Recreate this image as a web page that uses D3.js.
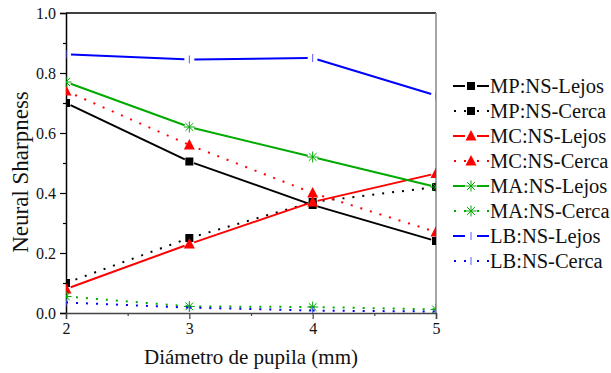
<!DOCTYPE html>
<html>
<head>
<meta charset="utf-8">
<script src="https://cdn.jsdelivr.net/npm/d3@7"></script>
<style>
  body { margin: 0; background: #fff; }
  svg text { font-family: "Liberation Serif", "Times New Roman", serif; fill: #111; }
</style>
</head>
<body>
<svg id="chart" width="611" height="373"></svg>
<script>
// pupil diameters (mm)
const diameters = [2, 3, 4, 5];

const mpLejos = [0.70, 0.505, 0.36, 0.24];
const mpCerca = [0.10, 0.25, 0.37, 0.42];
const mcLejos = [0.08, 0.23, 0.37, 0.465];
const mcCerca = [0.74, 0.56, 0.40, 0.27];
const maLejos = [0.77, 0.62, 0.52, 0.42];
const maCerca = [0.055, 0.022, 0.02, 0.012];
const lbLejos = [0.862, 0.845, 0.85, 0.725];
const lbCerca = [0.035, 0.018, 0.008, 0.005];

const seriesNames = ["MP:NS-Lejos", "MP:NS-Cerca", "MC:NS-Lejos", "MC:NS-Cerca",
  "MA:NS-Lejos", "MA:NS-Cerca", "LB:NS-Lejos", "LB:NS-Cerca"];
const yTicks = [0, 0.2, 0.4, 0.6, 0.8, 1.0];

const series = [
  { name: seriesNames[0], values: mpLejos, color: "#000", dotted: false, marker: "square" },
  { name: seriesNames[1], values: mpCerca, color: "#000", dotted: true, marker: "square" },
  { name: seriesNames[2], values: mcLejos, color: "#ff0000", dotted: false, marker: "triangle" },
  { name: seriesNames[3], values: mcCerca, color: "#ff0000", dotted: true, marker: "triangle" },
  { name: seriesNames[4], values: maLejos, color: "#00aa00", dotted: false, marker: "star" },
  { name: seriesNames[5], values: maCerca, color: "#00aa00", dotted: true, marker: "star" },
  { name: seriesNames[6], values: lbLejos, color: "#0000ff", dotted: false, marker: "bar" },
  { name: seriesNames[7], values: lbCerca, color: "#0000ff", dotted: true, marker: "bar" },
];

const svg = d3.select("#chart");
const margin = { left: 66, top: 13, right: 175, bottom: 60 };
const W = 611, H = 373;
const x = d3.scaleLinear().domain([2, 5]).range([margin.left, W - margin.right]);
const y = d3.scaleLinear().domain([0, 1]).range([H - margin.bottom, margin.top]);

svg.append("defs").append("clipPath").attr("id", "plotClip")
  .append("rect")
  .attr("x", x(2)).attr("y", y(1))
  .attr("width", x(5) - x(2)).attr("height", y(0) - y(1));

// axes frame
svg.append("line").attr("x1", x(2)).attr("x2", x(5)).attr("y1", y(1)).attr("y2", y(1))
  .attr("stroke", "#000").attr("stroke-width", 1.5);
svg.append("line").attr("x1", x(5)).attr("x2", x(5)).attr("y1", y(1)).attr("y2", y(0))
  .attr("stroke", "#888").attr("stroke-width", 1.5);

const yAxis = d3.axisLeft(y).tickValues(yTicks).tickFormat(d3.format(".1f")).tickSize(6).tickPadding(4);
const gy = svg.append("g").attr("transform", `translate(${x(2)},0)`).call(yAxis);
gy.select(".domain").attr("stroke", "#000").attr("stroke-width", 1.5);
gy.selectAll(".tick line").attr("stroke", "#000").attr("stroke-width", 1.2);
gy.selectAll("text").style("font-size", "16px").attr("fill", "#222");
svg.append("g").attr("transform", `translate(${x(2)},0)`)
  .call(d3.axisLeft(y).tickValues([0.1, 0.3, 0.5, 0.7, 0.9]).tickSize(3).tickFormat(""))
  .call(g => g.select(".domain").remove())
  .selectAll("line").attr("stroke", "#000").attr("stroke-width", 1.2);

const xAxis = d3.axisBottom(x).tickValues(diameters).tickFormat(d3.format("d")).tickSize(6).tickPadding(4);
const gx = svg.append("g").attr("transform", `translate(0,${y(0)})`).call(xAxis);
gx.select(".domain").attr("stroke", "#444").attr("stroke-width", 1.5);
gx.selectAll(".tick line").attr("stroke", "#444").attr("stroke-width", 1.2);
gx.selectAll("text").style("font-size", "16px").attr("fill", "#222");
svg.append("g").attr("transform", `translate(0,${y(0)})`)
  .call(d3.axisBottom(x).tickValues([2.5, 3.5, 4.5]).tickSize(3).tickFormat(""))
  .call(g => g.select(".domain").remove())
  .selectAll("line").attr("stroke", "#444").attr("stroke-width", 1.2);

// axis titles
svg.append("text").attr("x", (x(2) + x(5)) / 2).attr("y", 364)
  .attr("text-anchor", "middle").style("font-size", "21px").text("Diámetro de pupila (mm)");
svg.append("text").attr("transform", `translate(28,172) rotate(-90)`)
  .attr("text-anchor", "middle").style("font-size", "23px").text("Neural Sharpness");

function drawMarker(g, kind, color, cx, cy) {
  if (kind === "square") {
    g.append("rect").attr("x", cx - 4).attr("y", cy - 4).attr("width", 8).attr("height", 8).attr("fill", color);
  } else if (kind === "triangle") {
    g.append("path").attr("d", `M${cx},${cy - 6}L${cx + 5.5},${cy + 4.5}L${cx - 5.5},${cy + 4.5}Z`).attr("fill", color);
  } else if (kind === "star") {
    const r = 5.5;
    const d = d3.range(4).map(i => {
      const a = i * Math.PI / 4;
      return `M${cx - r * Math.cos(a)},${cy - r * Math.sin(a)}L${cx + r * Math.cos(a)},${cy + r * Math.sin(a)}`;
    }).join("");
    g.append("path").attr("d", d).attr("stroke", color).attr("stroke-width", 1).attr("fill", "none");
  } else if (kind === "bar") {
    g.append("line").attr("x1", cx).attr("x2", cx).attr("y1", cy - 4).attr("y2", cy + 4)
      .attr("stroke", "#5a5aff").attr("stroke-width", 1);
  }
}

const plot = svg.append("g").attr("clip-path", "url(#plotClip)");
const gap = 5;

series.forEach(s => {
  const g = plot.append("g");
  const pts = s.values.map((v, i) => [x(diameters[i]), y(v)]);
  for (let i = 0; i < pts.length - 1; i++) {
    const [x1, y1] = pts[i], [x2, y2] = pts[i + 1];
    const len = Math.hypot(x2 - x1, y2 - y1);
    const ux = (x2 - x1) / len, uy = (y2 - y1) / len;
    const gg = s.dotted ? 0 : gap;
    g.append("line")
      .attr("x1", x1 + ux * gg).attr("y1", y1 + uy * gg)
      .attr("x2", x2 - ux * gg).attr("y2", y2 - uy * gg)
      .attr("stroke", s.color)
      .attr("stroke-width", 2)
      .attr("stroke-dasharray", s.dotted ? "2,8" : null);
  }
  pts.forEach(p => drawMarker(g, s.marker, s.color, p[0], p[1]));
});

// legend
const legend = svg.append("g");
series.forEach((s, i) => {
  const ly = 86 + i * 25;
  const row = legend.append("g");
  if (s.dotted) {
    [455, 465, 478, 488].forEach(dx => {
      row.append("rect").attr("x", dx - 1).attr("y", ly - 1).attr("width", 2).attr("height", 2).attr("fill", s.color);
    });
  } else {
    row.append("line").attr("x1", 453).attr("x2", 465).attr("y1", ly).attr("y2", ly)
      .attr("stroke", s.color).attr("stroke-width", 2);
    row.append("line").attr("x1", 477).attr("x2", 489).attr("y1", ly).attr("y2", ly)
      .attr("stroke", s.color).attr("stroke-width", 2);
  }
  drawMarker(row, s.marker, s.color, 471, ly);
  row.append("text").attr("x", 490).attr("y", ly + 7).style("font-size", "20.5px").text(s.name);
});
</script>
</body>
</html>
